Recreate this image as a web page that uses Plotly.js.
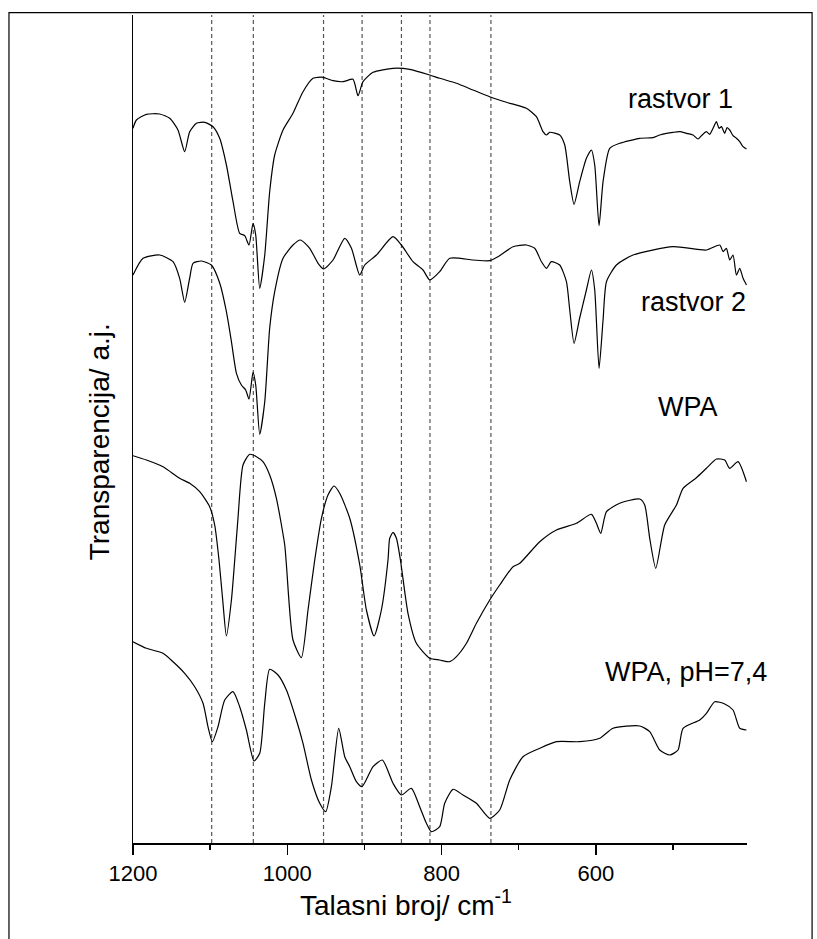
<!DOCTYPE html>
<html>
<head>
<meta charset="utf-8">
<script src="https://cdn.plot.ly/plotly-3.0.1.min.js"></script>
<style>html,body{margin:0;padding:0;background:#fff;}#chart{width:817px;height:939px;}</style>
</head>
<body>
<div id="chart"></div>
<script>
// ---- data (wavenumber cm^-1, transmittance in arbitrary offset units) ----
const wnR1 = [1200,1195.6,1182.6,1165.4,1152.4,1141.7,1133,1126.5,1117.8,1107,1096.3,1087.6,1078.9,1070.3,1061.7,1055.2,1049.6,1044.4,1040.9,1035.7,1029.2,1022.8,1016.3,1005.5,992.6,979.6,966.6,953.7,940.7,927.7,914.8,908.3,901.8,888.8,862.9,841.3,815.3,802.4,780.7,759.2,737.5,715.9,690,677,668.4,664,659.8,646.8,640.3,633.8,628.2,620.9,612.2,605.7,601.4,595.8,590.6,582,569,543,525.8,517.1,508.4,499.9,491.2,482.5,474,467.5,463.1,456.6,452.3,448,443.6,440.3,437.1,432.9,429.9,426.4,422.1,417.7,413.4,409.1,404.7];
const tR1 = [714.7,723,728.7,729,724.7,713,691.3,711.3,719.7,720.7,716.3,704.7,678,641.3,609.7,607.3,598,619.7,608,554.7,588,651.3,688,713,729.7,751.3,764.7,765.7,762.3,761.3,763.7,747.3,761.3,770.7,774.7,773.7,768,764.7,759.7,753,746.3,740.7,734.7,726.3,711.3,708,710.7,708,698,661.3,638.7,661.3,684.7,693,678,617.3,661.3,694.7,699.7,704.7,705.3,708,709.7,710.7,711.3,709.7,708,704,707.3,711.3,708.7,714.7,721.3,714.7,716.3,709.7,715.3,713,707.3,704.7,701.3,696.3,694];

const wnR2 = [1200,1187,1165.4,1148.1,1139.5,1133,1126.5,1122.2,1111.3,1098.4,1087.6,1078.9,1072.4,1065.9,1059.5,1053.9,1049.6,1044.4,1040.9,1035.7,1029.2,1022.8,1016.3,1005.5,992.6,983,970.9,960.1,952.8,940.7,925.5,916.8,906.1,899.6,884.4,862.9,852,837,824,815.3,802.4,789.4,759.2,737.5,726.8,707.3,690,679.2,670.5,664,657.6,646.8,638.1,633.8,628.2,620.9,612.2,605.7,601.4,595.8,590.6,586.2,573.3,551.7,499.9,456.6,439.3,435,430.7,426.4,422.1,417.7,413.4,409.1,404.7];
const tR2 = [568,584.7,588,581.3,564.7,540.7,565,579.7,582,578,560,531.3,501.3,469.7,458,453,444,470.7,458,408.7,441.3,514.7,551.3,584.7,598,603,594.7,579.7,574,583,604.7,594.7,568,578,588,606.3,598,581.3,573,563,571.3,584.7,583,582.3,586.3,596.3,598,594.7,581.3,574.7,581.3,578,561.3,533,499.7,525,553,573,553,474.7,523,561.3,578,588,596.3,593,598,591.3,594.7,583,588,568,574.7,564.7,558];

const wnWPA = [1200,1182.6,1161.1,1139.5,1126.5,1113.5,1100.6,1094.1,1088.5,1083.7,1078.9,1072.4,1068.1,1063.9,1057.4,1048.7,1040,1031.5,1022.8,1014.1,1003.3,1001.1,992.6,981.7,973.1,964.4,955.7,947.2,939.4,932,919,906,897.4,887.5,878,869.4,867.2,862.9,858.5,853.3,843.5,832.6,815.3,802.4,789.4,780.7,767.7,754.8,737.5,724.6,707.3,698.6,672.7,651.1,625.1,605.7,599.2,593.6,586.2,569,543,536.6,530.1,522.3,510.7,495.5,486.9,469.6,456.6,443.6,432.9,426.4,415.6,404.7];
const tWPA = [387.3,383,376.3,364.7,359.7,351.3,336.3,318,283,243,207,243,283,324.7,378,388.7,386.3,381.3,368,344.7,298,278,203,185.3,233,283,324.7,348,357,349.7,324.7,278,233,207,233,283,304.7,310.7,304.7,283,229.7,199.7,184.7,183,181.3,186.3,199.7,219.7,243,258,276.3,279.7,301.3,313,319.7,328.7,319.7,309.7,331.3,339.7,344,338,304.7,274.7,318,338,354.7,365.3,374.7,384,383,374.7,381.3,361.3];

const wnPH = [1200,1182.6,1161.1,1148.1,1133,1120,1109.2,1102.8,1097.1,1089.8,1081.1,1070.4,1061.7,1053,1043.1,1035.7,1029.2,1022.8,1012,1001.1,988.2,979.6,968.7,957.9,950.2,942.8,933.3,925.5,919,910.4,903.1,888.8,876.7,862.9,852,839.1,828.3,819.6,813.1,802.4,795.9,785.1,772.2,754.8,737.5,724.6,711.6,694.4,672.7,651.1,620.9,594.9,577.7,543,530.1,517.1,504.1,493.4,486.9,465.3,456.6,445.8,432.9,422.1,413.4,404.7];
const tPH = [201.3,194.7,189.7,181.3,169.7,156.3,139.7,116.3,101.3,116.3,143,151.3,136.3,113,82,89.7,139.7,173.7,168,153,123,99.7,63,39.7,31.3,56.3,114.7,86.3,76.3,61.3,56.3,76.3,83,59.7,48,54.7,36.3,19.7,11.3,16.3,39.7,53.7,48,39.7,24.7,33,63,86.3,94.7,101.3,101.3,104.7,114.7,117,111.3,93,88,93,114.7,123,129.7,141.3,139,133,114.7,113];

const seriesNames = ['rastvor 1','rastvor 2','WPA','WPA, pH=7,4'];
const markerLines = [1098,1044,953,903,852,815,736];
const xTickVals = [1200,1000,800,600];
const xTickText = ['1200','1000','800','600'];
const xTitle = 'Talasni broj/ cm<sup>-1</sup>';
const yTitle = 'Transparencija/ a.j.';

const FONT = 'Liberation Sans, Arial, sans-serif';
const series = [[wnR1,tR1],[wnR2,tR2],[wnWPA,tWPA],[wnPH,tPH]];
const traces = series.map((s,i)=>({
  x:s[0], y:s[1], type:'scatter', mode:'lines', name:seriesNames[i],
  line:{color:'#000', width:1.2, shape:'spline', smoothing:0.6}, hoverinfo:'skip'
}));

const shapes = markerLines.map(v=>({
  type:'line', xref:'x', yref:'paper', x0:v, x1:v, y0:0, y1:1,
  line:{color:'#555', width:1.2, dash:'4px,3px'}, layer:'below'
}));
shapes.push({type:'rect', xref:'paper', yref:'paper', x0:-0.202, x1:1.106, y0:-0.25, y1:1.0028,
  line:{color:'#000', width:1.2}, fillcolor:'rgba(0,0,0,0)'});

const labelPos = [[560.3,744],[544,541],[522.3,436],[590.6,171]];
const annotations = seriesNames.map((t,i)=>({
  text:t, x:labelPos[i][0], y:labelPos[i][1], xref:'x', yref:'y',
  xanchor:'left', yanchor:'middle', showarrow:false, font:{family:FONT, size:27, color:'#000'}
}));
annotations.push({text:xTitle, xref:'paper', yref:'paper', x:0.444, y:-0.072, xanchor:'center', yanchor:'middle',
  showarrow:false, font:{family:FONT, size:28, color:'#000'}});
annotations.push({text:yTitle, xref:'paper', yref:'paper', x:-0.0543, y:0.4847, xanchor:'center', yanchor:'middle',
  textangle:-90, showarrow:false, font:{family:FONT, size:28, color:'#000'}});

const layout = {
  width:817, height:939, paper_bgcolor:'#fff', plot_bgcolor:'#fff',
  margin:{l:133, r:70, t:15, b:96}, showlegend:false,
  xaxis:{range:[1200,404], showgrid:false, zeroline:false, showline:true, linecolor:'#000', linewidth:1.5,
    ticks:'outside', ticklen:10, tickwidth:1.5, tickcolor:'#000', tickvals:xTickVals, ticktext:xTickText,
    tickfont:{family:FONT, size:22, color:'#000'},
    minor:{tickvals:[1100,900,700,500], ticks:'outside', ticklen:5, tickwidth:1.5, tickcolor:'#000', showgrid:false}},
  yaxis:{range:[0,828], showgrid:false, zeroline:false, showline:true, linecolor:'#000', linewidth:1.3,
    ticks:'', showticklabels:false},
  shapes:shapes, annotations:annotations
};
Plotly.newPlot('chart', traces, layout, {staticPlot:true});
</script>
</body>
</html>
